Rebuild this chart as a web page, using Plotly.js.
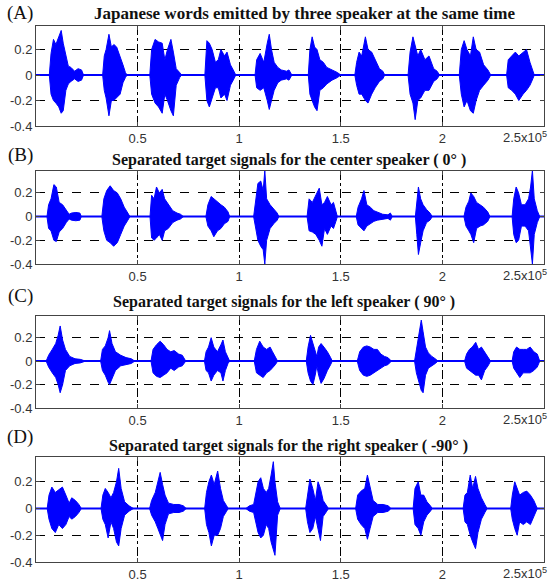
<!DOCTYPE html>
<html>
<head>
<meta charset="utf-8">
<script src="https://cdn.plot.ly/plotly-3.0.1.min.js"></script>
<style>html,body{margin:0;padding:0;background:#fff;}#chart{width:549px;height:582px;}</style>
</head>
<body>
<div id="chart"></div>
<script>
// ---- axis ticks (x in units of 10^5 samples) ----
const X_TICKS = [0.5, 1, 1.5, 2];
const X_LABELS = ['0.5', '1', '1.5', '2'];
const Y_TICKS = [-0.4, -0.2, 0, 0.2];
const Y_LABELS = ['-0.4', '-0.2', '0', '0.2'];
const X_MAX = 2.5;
const BASELINE = 0;

const PANEL_LETTERS = ['(A)', '(B)', '(C)', '(D)'];
const PANEL_TITLES = [
  'Japanese words emitted by three speaker at the same time',
  'Separated target signals for the center speaker ( 0° )',
  'Separated target signals for the left speaker ( 90° )',
  'Separated target signals for the right speaker ( -90° )'
];

// ---- (A) mixture: envelope of each word burst ----
const aX = [
 [0.0655,0.074,0.086,0.098,0.112,0.124,0.134,0.147,0.159,0.172,0.19,0.207,0.224,0.234],
 [0.328,0.336,0.345,0.359,0.371,0.383,0.397,0.414,0.428,0.44,0.448],
 [0.560,0.569,0.586,0.603,0.621,0.634,0.647,0.664,0.676,0.690,0.707,0.716],
 [0.831,0.841,0.853,0.867,0.883,0.897,0.910,0.928,0.940,0.957,0.974,0.983],
 [1.078,1.086,1.103,1.121,1.138,1.148,1.159,1.172,1.19,1.207,1.233,1.245,1.259],
 [1.34,1.348,1.359,1.371,1.383,1.397,1.414,1.431,1.457,1.483,1.5],
 [1.569,1.578,1.590,1.603,1.621,1.634,1.652,1.669,1.690,1.707,1.716],
 [1.831,1.841,1.855,1.866,1.879,1.893,1.914,1.934,1.957,1.974,1.986],
 [2.083,2.093,2.107,2.121,2.138,2.152,2.166,2.183,2.203,2.224,2.238],
 [2.316,2.324,2.341,2.359,2.376,2.397,2.414,2.431,2.445,2.452]
];
const aTop = [
 [0,0.17,0.28,0.24,0.3,0.35,0.25,0.15,0.07,0.06,0.03,0.05,0.04,0],
 [0,0.15,0.2,0.32,0.22,0.24,0.22,0.15,0.08,0.02,0],
 [0,0.2,0.28,0.26,0.25,0.12,0.2,0.28,0.18,0.05,0.02,0],
 [0,0.27,0.25,0.2,0.1,0.12,0.2,0.15,0.18,0.08,0.03,0],
 [0,0.12,0.17,0.1,0.25,0.32,0.2,0.1,0.06,0.04,0.03,0.04,0],
 [0,0.2,0.3,0.22,0.2,0.12,0.1,0.06,0.04,0.02,0],
 [0,0.1,0.18,0.15,0.3,0.2,0.18,0.12,0.05,0.03,0],
 [0,0.18,0.3,0.22,0.15,0.2,0.12,0.15,0.05,0.03,0],
 [0,0.2,0.27,0.2,0.15,0.3,0.2,0.18,0.08,0.04,0],
 [0,0.12,0.15,0.18,0.15,0.18,0.2,0.1,0.03,0]
];
const aBot = [
 [0,-0.15,-0.2,-0.22,-0.25,-0.3,-0.28,-0.12,-0.07,-0.05,-0.03,-0.05,-0.04,0],
 [0,-0.12,-0.18,-0.32,-0.2,-0.2,-0.18,-0.15,-0.06,-0.02,0],
 [0,-0.15,-0.22,-0.25,-0.3,-0.15,-0.2,-0.28,-0.32,-0.08,-0.02,0],
 [0,-0.2,-0.25,-0.18,-0.1,-0.1,-0.18,-0.15,-0.2,-0.08,-0.03,0],
 [0,-0.1,-0.12,-0.1,-0.2,-0.27,-0.2,-0.12,-0.06,-0.04,-0.03,-0.04,0],
 [0,-0.15,-0.2,-0.25,-0.28,-0.12,-0.1,-0.07,-0.04,-0.02,0],
 [0,-0.08,-0.15,-0.15,-0.2,-0.22,-0.15,-0.1,-0.05,-0.03,0],
 [0,-0.15,-0.22,-0.35,-0.2,-0.18,-0.12,-0.12,-0.05,-0.03,0],
 [0,-0.15,-0.25,-0.2,-0.28,-0.3,-0.2,-0.12,-0.08,-0.04,0],
 [0,-0.1,-0.12,-0.15,-0.2,-0.15,-0.12,-0.08,-0.03,0]
];

// ---- (B) center speaker ----
const bX = [
 [0.054,0.062,0.074,0.088,0.1,0.114,0.131,0.149,0.163,0.175,0.196,0.216,0.223],
 [0.324,0.334,0.348,0.365,0.382,0.4,0.417,0.434,0.452,0.462],
 [0.561,0.569,0.581,0.593,0.607,0.621,0.633,0.651,0.673,0.694,0.711,0.725],
 [0.836,0.846,0.862,0.875,0.893,0.91,0.927,0.945,0.953],
 [1.071,1.08,1.092,1.106,1.118,1.126,1.135,1.152,1.17,1.187,1.195],
 [1.334,1.344,1.36,1.377,1.394,1.407,1.42,1.434,1.452,1.464,1.476,1.483],
 [1.576,1.585,1.602,1.614,1.628,1.645,1.663,1.68,1.706,1.732,1.744,1.753],
 [1.867,1.874,1.882,1.893,1.905,1.922,1.939,1.95],
 [2.106,2.116,2.13,2.14,2.154,2.168,2.185,2.202,2.223,2.234],
 [2.343,2.351,2.363,2.375,2.389,2.407,2.424,2.434,2.443,2.452,2.467,2.479]
];
const bTop = [
 [0,0.1,0.15,0.27,0.25,0.12,0.1,0.06,0.02,0.03,0.035,0.03,0],
 [0,0.15,0.22,0.26,0.22,0.2,0.15,0.08,0.03,0],
 [0,0.18,0.15,0.25,0.2,0.23,0.15,0.1,0.05,0.03,0.02,0],
 [0,0.1,0.17,0.15,0.12,0.1,0.08,0.04,0],
 [0,0.12,0.28,0.3,0.22,0.39,0.15,0.1,0.06,0.03,0],
 [0,0.15,0.12,0.18,0.24,0.1,0.12,0.17,0.1,0.12,0.04,0],
 [0,0.08,0.15,0.22,0.1,0.08,0.05,0.04,0.02,0.015,0.03,0],
 [0,0.12,0.25,0.15,0.1,0.06,0.03,0],
 [0,0.08,0.13,0.2,0.17,0.12,0.1,0.08,0.04,0],
 [0,0.15,0.25,0.2,0.1,0.1,0.15,0.25,0.39,0.15,0.05,0]
];
const bBot = [
 [0,-0.1,-0.12,-0.2,-0.21,-0.13,-0.1,-0.05,-0.02,-0.03,-0.035,-0.03,0],
 [0,-0.12,-0.2,-0.22,-0.25,-0.22,-0.15,-0.08,-0.03,0],
 [0,-0.18,-0.2,-0.18,-0.15,-0.2,-0.12,-0.1,-0.05,-0.03,-0.02,0],
 [0,-0.08,-0.12,-0.17,-0.12,-0.1,-0.06,-0.04,0],
 [0,-0.1,-0.2,-0.25,-0.28,-0.4,-0.2,-0.1,-0.06,-0.03,0],
 [0,-0.12,-0.13,-0.15,-0.2,-0.25,-0.1,-0.15,-0.08,-0.1,-0.04,0],
 [0,-0.07,-0.1,-0.12,-0.08,-0.06,-0.04,-0.03,-0.02,-0.015,-0.03,0],
 [0,-0.15,-0.32,-0.22,-0.12,-0.05,-0.03,0],
 [0,-0.08,-0.12,-0.15,-0.22,-0.1,-0.08,-0.07,-0.04,0],
 [0,-0.15,-0.22,-0.2,-0.08,-0.08,-0.12,-0.25,-0.4,-0.15,-0.05,0]
];

// ---- (C) left speaker ----
const cX = [
 [0.05,0.062,0.08,0.097,0.109,0.119,0.131,0.145,0.166,0.192,0.218,0.244],
 [0.318,0.327,0.341,0.355,0.362,0.374,0.391,0.417,0.443,0.469,0.486],
 [0.566,0.576,0.593,0.611,0.628,0.645,0.663,0.68,0.702,0.72,0.737],
 [0.829,0.837,0.849,0.862,0.875,0.893,0.91,0.92,0.932,0.945,0.953],
 [1.074,1.085,1.101,1.118,1.135,1.152,1.164,1.178,1.189],
 [1.33,1.339,1.351,1.363,1.374,1.382,1.391,1.403,1.417,1.434,1.45,1.458],
 [1.581,1.593,1.611,1.628,1.645,1.663,1.68,1.697,1.715,1.732,1.749],
 [1.863,1.872,1.884,1.896,1.905,1.917,1.931,1.948,1.965,1.978],
 [2.109,2.119,2.133,2.147,2.164,2.178,2.192,2.208,2.225,2.237],
 [2.343,2.351,2.365,2.381,2.398,2.415,2.432,2.45,2.467,2.479]
];
const cTop = [
 [0,0.05,0.1,0.15,0.22,0.3,0.18,0.1,0.04,0.02,0.015,0],
 [0,0.1,0.13,0.2,0.26,0.15,0.08,0.05,0.03,0.02,0],
 [0,0.1,0.14,0.17,0.14,0.1,0.08,0.09,0.06,0.05,0],
 [0,0.08,0.12,0.2,0.12,0.08,0.14,0.18,0.08,0.02,0],
 [0,0.1,0.17,0.12,0.1,0.12,0.08,0.03,0],
 [0,0.12,0.22,0.15,0.1,0.04,0.12,0.15,0.12,0.08,0.03,0],
 [0,0.08,0.12,0.13,0.12,0.1,0.1,0.06,0.04,0.03,0],
 [0,0.1,0.2,0.35,0.25,0.12,0.07,0.04,0.02,0],
 [0,0.06,0.1,0.12,0.16,0.1,0.12,0.08,0.04,0],
 [0,0.08,0.12,0.1,0.1,0.1,0.12,0.08,0.06,0]
];
const cBot = [
 [0,-0.05,-0.1,-0.14,-0.2,-0.27,-0.2,-0.08,-0.04,-0.02,-0.015,0],
 [0,-0.08,-0.12,-0.18,-0.2,-0.15,-0.08,-0.04,-0.03,-0.02,0],
 [0,-0.1,-0.13,-0.14,-0.12,-0.1,-0.06,-0.08,-0.05,-0.04,0],
 [0,-0.08,-0.1,-0.17,-0.12,-0.08,-0.1,-0.17,-0.08,-0.02,0],
 [0,-0.1,-0.12,-0.14,-0.1,-0.08,-0.06,-0.03,0],
 [0,-0.1,-0.17,-0.2,-0.12,-0.04,-0.12,-0.19,-0.15,-0.08,-0.03,0],
 [0,-0.08,-0.12,-0.13,-0.12,-0.1,-0.08,-0.06,-0.04,-0.03,0],
 [0,-0.1,-0.18,-0.25,-0.27,-0.12,-0.06,-0.04,-0.02,0],
 [0,-0.06,-0.08,-0.1,-0.12,-0.12,-0.16,-0.08,-0.04,0],
 [0,-0.06,-0.1,-0.14,-0.1,-0.1,-0.1,-0.08,-0.05,0]
];

// ---- (D) right speaker ----
const dX = [
 [0.055,0.064,0.078,0.095,0.112,0.13,0.147,0.163,0.176,0.194,0.211,0.223],
 [0.32,0.329,0.341,0.355,0.369,0.382,0.396,0.407,0.419,0.436,0.458,0.479],
 [0.559,0.569,0.587,0.6,0.611,0.623,0.635,0.652,0.678,0.704,0.725,0.739],
 [0.83,0.839,0.851,0.863,0.877,0.894,0.908,0.922,0.938,0.946],
 [1.033,1.05,1.071,1.081,1.093,1.106,1.119,1.133,1.145,1.157,1.168,1.176,1.189,1.202],
 [1.327,1.336,1.348,1.362,1.375,1.388,1.4,1.413,1.431,1.439],
 [1.573,1.583,1.6,1.618,1.631,1.644,1.659,1.682,1.708,1.734,1.746],
 [1.856,1.865,1.881,1.894,1.908,1.924,1.941,1.95],
 [2.102,2.111,2.123,2.137,2.149,2.163,2.175,2.192,2.209,2.22],
 [2.336,2.344,2.356,2.368,2.38,2.398,2.415,2.433,2.45,2.467]
];
const dTop = [
 [0,0.1,0.16,0.12,0.14,0.16,0.1,0.04,0.08,0.06,0.03,0],
 [0,0.1,0.15,0.12,0.08,0.12,0.2,0.3,0.15,0.05,0.02,0],
 [0,0.06,0.12,0.2,0.27,0.18,0.1,0.04,0.03,0.03,0.02,0],
 [0,0.12,0.2,0.25,0.18,0.28,0.15,0.06,0.02,0],
 [0,0.02,0.03,0.12,0.2,0.23,0.15,0.12,0.15,0.25,0.35,0.2,0.05,0],
 [0,0.1,0.22,0.15,0.06,0.2,0.15,0.06,0.02,0],
 [0,0.1,0.13,0.15,0.25,0.15,0.06,0.03,0.03,0.02,0],
 [0,0.15,0.2,0.1,0.1,0.05,0.02,0],
 [0,0.1,0.12,0.25,0.15,0.24,0.15,0.08,0.03,0],
 [0,0.1,0.2,0.15,0.1,0.12,0.13,0.1,0.06,0]
];
const dBot = [
 [0,-0.08,-0.15,-0.18,-0.12,-0.15,-0.12,-0.06,-0.08,-0.06,-0.03,0],
 [0,-0.08,-0.12,-0.22,-0.1,-0.15,-0.25,-0.28,-0.15,-0.05,-0.02,0],
 [0,-0.05,-0.1,-0.15,-0.2,-0.24,-0.12,-0.04,-0.03,-0.03,-0.02,0],
 [0,-0.12,-0.18,-0.28,-0.2,-0.2,-0.15,-0.06,-0.02,0],
 [0,-0.02,-0.03,-0.1,-0.18,-0.22,-0.2,-0.12,-0.15,-0.25,-0.3,-0.35,-0.05,0],
 [0,-0.1,-0.18,-0.15,-0.06,-0.15,-0.24,-0.06,-0.02,0],
 [0,-0.08,-0.12,-0.15,-0.23,-0.15,-0.06,-0.03,-0.03,-0.02,0],
 [0,-0.12,-0.15,-0.2,-0.1,-0.05,-0.02,0],
 [0,-0.1,-0.12,-0.2,-0.25,-0.3,-0.18,-0.08,-0.03,0],
 [0,-0.08,-0.15,-0.2,-0.1,-0.12,-0.1,-0.12,-0.06,0]
];

const PANELS = [
  {x: aX, top: aTop, bot: aBot},
  {x: bX, top: bTop, bot: bBot},
  {x: cX, top: cTop, bot: cBot},
  {x: dX, top: dTop, bot: dBot}
];

// ---- layout geometry (pixels) ----
const W = 549, H = 582;
const BOX = [[26,126],[171,264],[316,408],[457,562]]; // top,bottom of each plot box
const BOX_L = 36, BOX_R = 544;
const LETTER_Y = [13, 155, 296, 437];
const TITLE_Y = [13, 160, 302, 446];
const TITLE_X = [304, 289, 284, 288];
const TITLE_SIZE = [17, 16, 16, 16];
const BLUE = 'rgb(0,0,255)';
const SANS = 'Liberation Sans, Arial, sans-serif';
const SERIF = 'Liberation Serif, Times New Roman, serif';

const traces = [];
const layout = {
  width: W, height: H,
  margin: {l:0, r:0, t:0, b:0},
  paper_bgcolor: '#fff', plot_bgcolor: '#fff',
  showlegend: false,
  annotations: []
};

PANELS.forEach((p, i) => {
  const sfx = i === 0 ? '' : String(i + 1);
  const xa = 'x' + sfx, ya = 'y' + sfx;
  // zero baseline of the signal
  traces.push({
    type: 'scatter', mode: 'lines', xaxis: xa, yaxis: ya,
    x: [0, X_MAX], y: [BASELINE, BASELINE],
    line: {color: BLUE, width: 2}, hoverinfo: 'skip'
  });
  p.x.forEach((xs, j) => {
    const px = xs.concat(xs.slice().reverse());
    const py = p.top[j].concat(p.bot[j].slice().reverse());
    traces.push({
      type: 'scatter', mode: 'lines', xaxis: xa, yaxis: ya,
      x: px, y: py, fill: 'toself', fillcolor: BLUE,
      line: {color: BLUE, width: 1}, hoverinfo: 'skip'
    });
  });
  const dom = [1 - BOX[i][1] / H, 1 - BOX[i][0] / H];
  layout['xaxis' + sfx] = {
    domain: [BOX_L / W, BOX_R / W], anchor: ya,
    range: [0, X_MAX], tickvals: X_TICKS, ticktext: X_LABELS,
    showgrid: true, gridcolor: '#000', gridwidth: 1, griddash: 'dashdot',
    zeroline: false, showline: true, mirror: 'ticks', linecolor: '#444', linewidth: 1,
    ticks: 'inside', ticklen: 4, tickcolor: '#444',
    tickfont: {family: SANS, size: 13, color: '#333'}
  };
  layout['yaxis' + sfx] = {
    domain: dom, anchor: xa,
    range: [-0.4, 0.385], tickvals: Y_TICKS, ticktext: Y_LABELS,
    showgrid: true, gridcolor: '#000', gridwidth: 1, griddash: 'dash',
    zeroline: false, showline: true, mirror: 'ticks', linecolor: '#444', linewidth: 1,
    ticks: 'inside', ticklen: 4, tickcolor: '#444',
    tickfont: {family: SANS, size: 13, color: '#333'}
  };
  layout.annotations.push({
    text: PANEL_LETTERS[i], xref: 'paper', yref: 'paper',
    x: 20 / W, y: 1 - LETTER_Y[i] / H, xanchor: 'center', yanchor: 'middle',
    showarrow: false, font: {family: SERIF, size: 19, color: '#111'}
  });
  layout.annotations.push({
    text: '<b>' + PANEL_TITLES[i] + '</b>', xref: 'paper', yref: 'paper',
    x: TITLE_X[i] / W, y: 1 - TITLE_Y[i] / H, xanchor: 'center', yanchor: 'middle',
    showarrow: false, font: {family: SERIF, size: TITLE_SIZE[i], color: '#111'}
  });
  layout.annotations.push({
    text: '2.5x10<sup>5</sup>', xref: 'paper', yref: ya + ' domain',
    x: 1, y: 0, xanchor: 'right', yanchor: 'top', yshift: -1,
    showarrow: false, font: {family: SANS, size: 13, color: '#333'}
  });
});

Plotly.newPlot('chart', traces, layout, {staticPlot: true, displayModeBar: false});
</script>
</body>
</html>
